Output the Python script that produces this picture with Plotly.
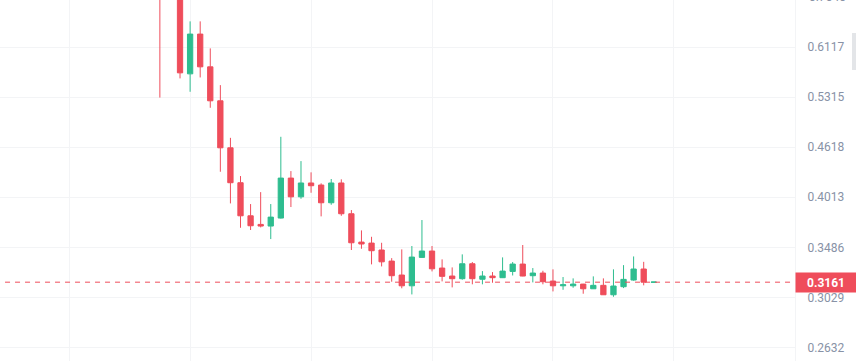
import numpy as np
import plotly.graph_objects as go

# ---- data ----
period = list(range(-2, 48))
open_ = [0.800, 0.760, 0.745, 0.5676, 0.6347, 0.5789, 0.5262, 0.4611, 0.4180, 0.3809,
         0.3718, 0.3701, 0.3785, 0.4235, 0.4018, 0.4177, 0.4153, 0.3951, 0.4177, 0.3831,
         0.3538, 0.3528, 0.3460, 0.3354, 0.3225, 0.3129, 0.3389, 0.3450, 0.3289, 0.3216,
         0.3192, 0.3329, 0.3187, 0.3216, 0.3201, 0.3258, 0.3326, 0.3219, 0.3243, 0.3171,
         0.3129, 0.3129, 0.3144, 0.3103, 0.3133, 0.3051, 0.3121, 0.3180, 0.3280, 0.3160]
high = [0.820, 0.780, 0.760, 0.6578, 0.6578, 0.6097, 0.5499, 0.4742, 0.4259, 0.3937,
        0.4071, 0.3937, 0.4756, 0.4319, 0.4442, 0.4304, 0.4173, 0.4224, 0.4220, 0.3871,
        0.3656, 0.3591, 0.3531, 0.3382, 0.3466, 0.3499, 0.3764, 0.3499, 0.3370, 0.3295,
        0.3418, 0.3345, 0.3261, 0.3252, 0.3389, 0.3345, 0.3509, 0.3289, 0.3264, 0.3277,
        0.3207, 0.3195, 0.3146, 0.3213, 0.3195, 0.3277, 0.3316, 0.3398, 0.3347, 0.3162]
low = [0.531, 0.720, 0.5604, 0.5397, 0.5619, 0.5160, 0.4311, 0.3944, 0.3683, 0.3660,
       0.3687, 0.3568, 0.3780, 0.3904, 0.3996, 0.4064, 0.3803, 0.3929, 0.3809, 0.3460,
       0.3472, 0.3323, 0.3304, 0.3165, 0.3107, 0.3054, 0.3386, 0.3258, 0.3168, 0.3115,
       0.3183, 0.3142, 0.3142, 0.3156, 0.3198, 0.3221, 0.3214, 0.3159, 0.3142, 0.3080,
       0.3094, 0.3112, 0.3060, 0.3101, 0.3051, 0.3034, 0.3109, 0.3174, 0.3133, 0.3160]
close = [0.740, 0.745, 0.5692, 0.6347, 0.5789, 0.5262, 0.4611, 0.4180, 0.3809, 0.3704,
         0.3701, 0.3795, 0.4235, 0.4018, 0.4177, 0.4145, 0.3951, 0.4177, 0.3831, 0.3531,
         0.3519, 0.3453, 0.3347, 0.3219, 0.3129, 0.3392, 0.3450, 0.3282, 0.3213, 0.3192,
         0.3329, 0.3192, 0.3216, 0.3201, 0.3261, 0.3326, 0.3216, 0.3243, 0.3165, 0.3129,
         0.3138, 0.3144, 0.3103, 0.3133, 0.3051, 0.3127, 0.3186, 0.3280, 0.3161, 0.3162]

last_price = 0.3161
y_ticks = [0.2632, 0.3029, 0.3486, 0.4013, 0.4618, 0.5315, 0.6117]
y_tick_labels = ["0.2632", "0.3029", "0.3486", "0.4013", "0.4618", "0.5315", "0.6117"]
top_label = "0.7040"
x_grid = [-11, 1, 13, 25, 37, 49]

RED = "#ef4d5b"
GREEN = "#2ebd8f"
GRID = "#f3f4f6"
LABEL = "#8892a6"

x_range = [-17.86, 61.01]
y_range = [np.log10(0.2533), np.log10(0.6985)]

fig = go.Figure()

# last price dashed line
fig.add_trace(go.Scatter(
    x=[-17.36, x_range[1]], y=[last_price, last_price], mode="lines",
    line=dict(color=RED, width=1, dash="5px,5px"), hoverinfo="skip", showlegend=False))

fig.add_trace(go.Candlestick(
    x=period, open=open_, high=high, low=low, close=close,
    increasing=dict(line=dict(color=GREEN, width=1), fillcolor=GREEN),
    decreasing=dict(line=dict(color=RED, width=1), fillcolor=RED),
    whiskerwidth=0, showlegend=False, hoverinfo="skip"))

fig.update_layout(
    width=856, height=361,
    margin=dict(l=0, r=61, t=0, b=0, autoexpand=False),
    paper_bgcolor="white", plot_bgcolor="white",
    boxgap=0.25,
    font=dict(family="Roboto", size=12, color=LABEL),
    xaxis=dict(range=x_range, rangeslider=dict(visible=False), tickvals=x_grid,
               showticklabels=False, showgrid=True, gridcolor=GRID, gridwidth=1,
               zeroline=False, showline=False, ticks="", automargin=False),
    yaxis=dict(type="log", range=y_range, side="right", tickvals=y_ticks,
               ticktext=y_tick_labels, showgrid=True, gridcolor=GRID, gridwidth=1,
               zeroline=False, showline=True, linecolor=GRID, linewidth=1, ticks="",
               automargin=False,
               ticklabelstandoff=9, tickfont=dict(family="Roboto", size=12, color=LABEL)),
    showlegend=False,
)

# current price label
fig.add_annotation(
    xref="paper", yref="y", x=1, y=np.log10(last_price), xanchor="left", yanchor="middle",
    text="<b>" + f"{last_price:.4f}" + "</b>", showarrow=False, bgcolor=RED,
    width=60, height=19, borderpad=0, align="center",
    font=dict(family="Roboto", size=12, color="white"))

# partially visible top label
fig.add_annotation(
    xref="paper", yref="paper", x=1 + 12/795, y=1 + 2.7/361, xanchor="left", yanchor="middle",
    text=top_label, showarrow=False, font=dict(family="Roboto", size=12, color=LABEL))

# scroll handle at right edge
fig.add_shape(type="rect", xref="paper", yref="paper",
              x0=852/795, x1=858/795, y0=1-70/361, y1=1-33/361,
              fillcolor="#e3e5e8", line=dict(width=0), layer="above")

fig.write_html("out.html", config={"displayModeBar": False},
               post_script="document.body.style.margin='0';document.body.style.overflow='hidden';")
